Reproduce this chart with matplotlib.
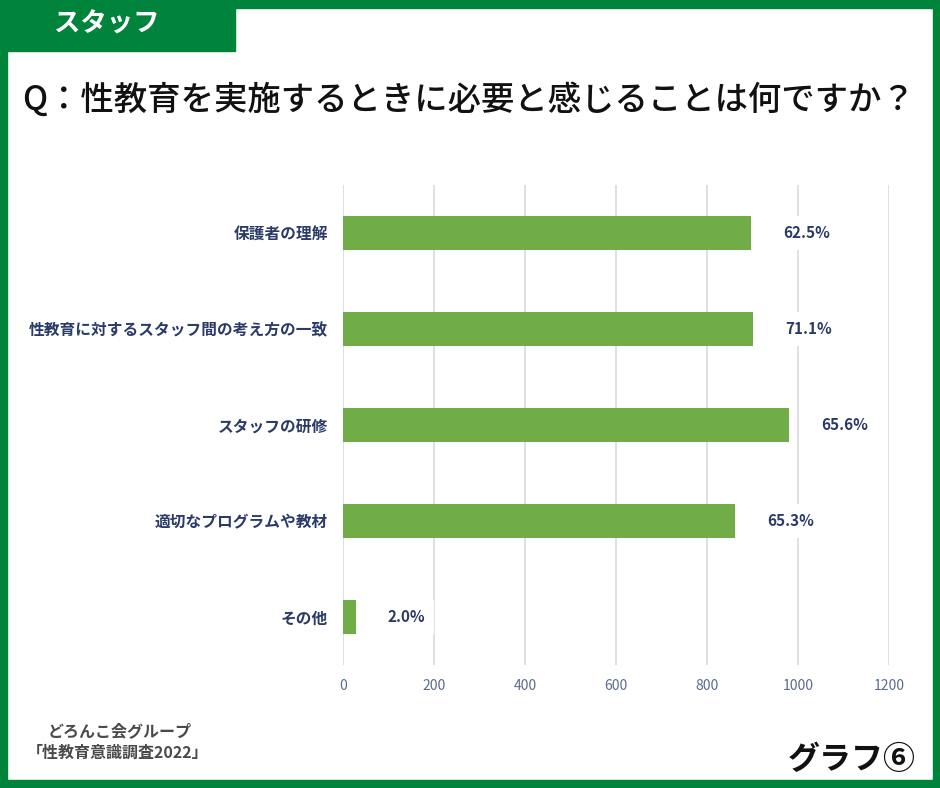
import matplotlib
matplotlib.use("Agg")
import matplotlib.pyplot as plt
from matplotlib.patches import Rectangle

plt.rcParams['font.family'] = ['Noto Sans CJK JP', 'DejaVu Sans']

categories = ["保護者の理解", "性教育に対するスタッフ間の考え方の一致", "スタッフの研修",
              "適切なプログラムや教材", "その他"]
values = [897, 901, 980, 862, 28]
pct_labels = ["62.5%", "71.1%", "65.6%", "65.3%", "2.0%"]
xticks = [0, 200, 400, 600, 800, 1000, 1200]

W, H = 940, 788
fig = plt.figure(figsize=(W / 100, H / 100), dpi=100)
fig.patch.set_facecolor("white")

GREEN = "#00833b"
def frect(x, y, w, h, color):
    fig.patches.append(Rectangle((x / W, 1 - (y + h) / H), w / W, h / H,
                                 transform=fig.transFigure, color=color, zorder=0))

# border
frect(0, 0, W, 8, GREEN)
frect(0, H - 8, W, 8, GREEN)
frect(0, 0, 7, H, GREEN)
frect(W - 7, 0, 7, H, GREEN)
# tab
frect(0, 0, 235, 51, GREEN)
fig.text(107 / W, 1 - 24 / H, "スタッフ", color="white", fontsize=19, fontweight="bold",
         ha="center", va="center")

# title
fig.text(22 / W, 1 - 100 / H, "Q：性教育を実施するときに必要と感じることは何ですか？",
         color="#111111", fontsize=24, ha="left", va="center", fontweight="medium")

# axes
ax = fig.add_axes([343 / W, 1 - 665 / H, (889 - 343) / W, (665 - 185) / H])
y = list(range(len(categories)))
ax.barh(y, values, height=0.35, color="#70ad47", zorder=3)
ax.set_xlim(0, 1200)
ax.set_ylim(4.5, -0.5)
ax.set_xticks(xticks)
ax.set_xticklabels([str(t) for t in xticks])
ax.set_yticks(y)
ax.set_yticklabels(categories)
for s in ax.spines.values():
    s.set_visible(False)
ax.grid(axis="x", color="#d9d9d9", linewidth=1.2, zorder=0)
ax.tick_params(axis="x", length=0, pad=10, labelsize=10, labelcolor="#5b6b8c")
ax.tick_params(axis="y", length=0, pad=11, labelsize=11.3, labelcolor="#2b3b68")
for lab in ax.get_yticklabels():
    lab.set_fontweight("bold")

for yi, v, lab in zip(y, values, pct_labels):
    ax.annotate(lab, xy=(v, yi), xytext=(23, 0), textcoords="offset points",
                ha="left", va="center", fontsize=11, fontweight="bold", color="#2b3b68",
                bbox=dict(boxstyle="square,pad=0.6", fc="white", ec="none"), zorder=5)

# footer
fig.text(120 / W, 1 - 731 / H, "どろんこ会グループ", color="#4a4a4a", fontsize=11.5,
         fontweight="bold", ha="center", va="center")
fig.text(118 / W, 1 - 753 / H, "「性教育意識調査2022」", color="#4a4a4a", fontsize=11.5,
         fontweight="bold", ha="center", va="center")
fig.text(916 / W, 1 - 760 / H, "グラフ⑥", color="#111111", fontsize=23,
         fontweight="bold", ha="right", va="center")

fig.savefig("out.png", dpi=100, facecolor="white")
